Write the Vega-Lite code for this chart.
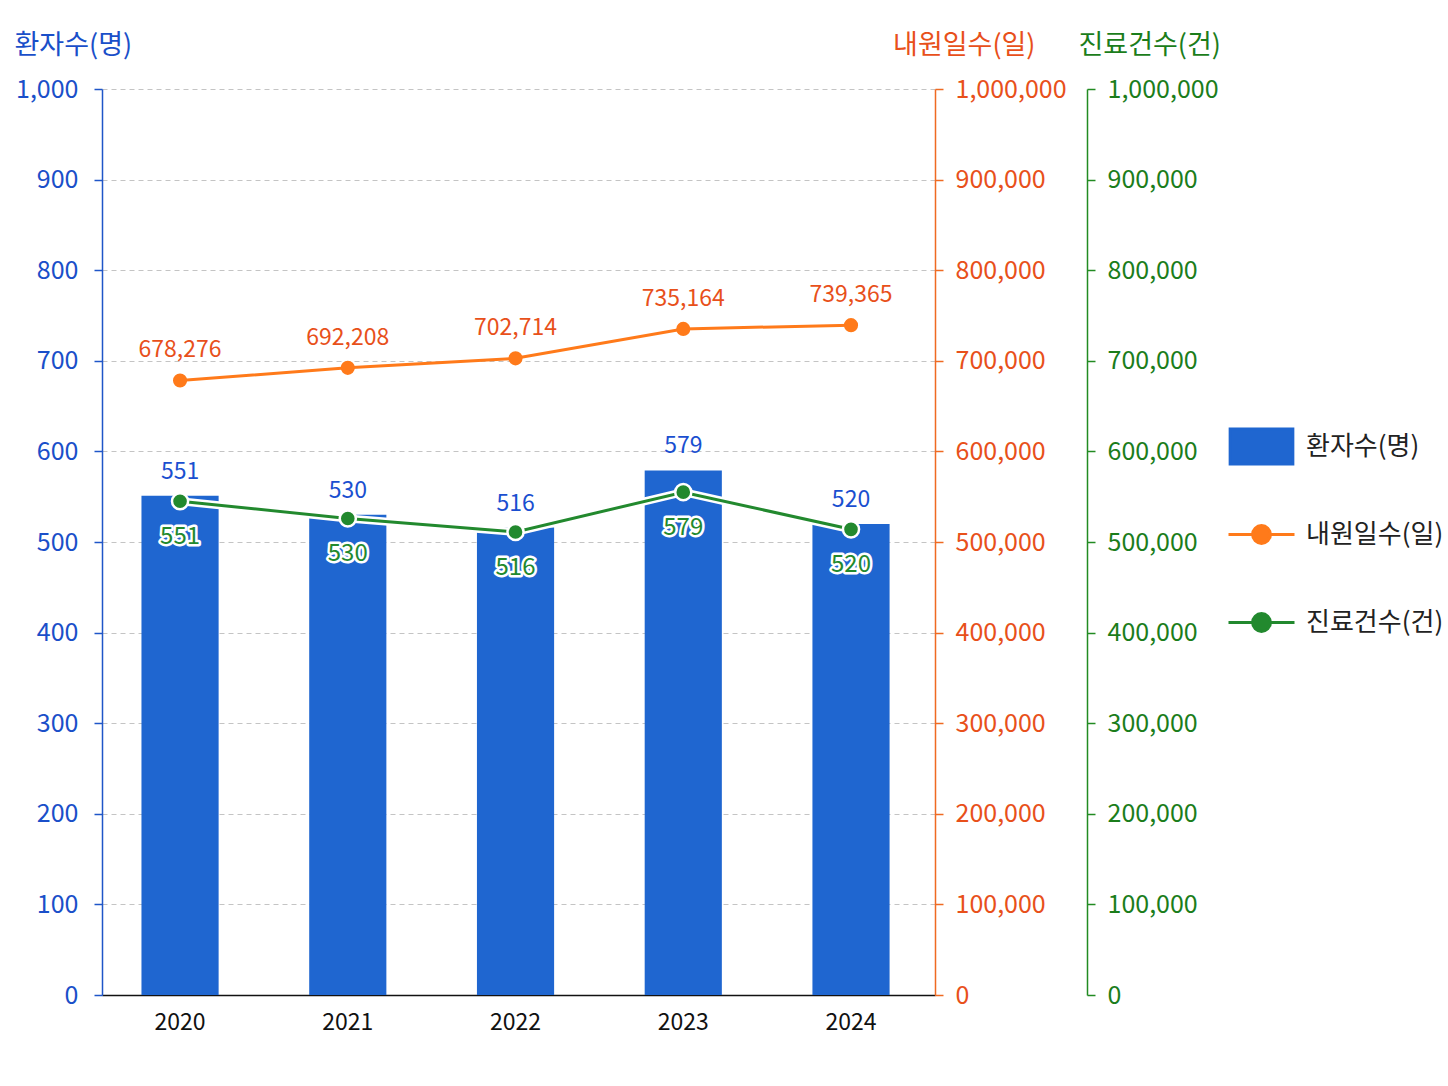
{
  "$schema": "https://vega.github.io/schema/vega-lite/v6.json",
  "width": 833,
  "height": 906,
  "autosize": {"type": "none"},
  "padding": {"left": 102, "top": 89, "right": 513, "bottom": 91},
  "background": "white",
  "config": {
    "font": "Noto Sans CJK KR",
    "view": {"stroke": null},
    "axis": {"labelFont": "Noto Sans CJK KR", "titleFont": "Noto Sans CJK KR", "titleFontWeight": "normal"},
    "text": {"font": "Noto Sans CJK KR"}
  },
  "data": {
    "values": [
      {"year": "2020", "patients": 551, "visits": 678276, "claims": 545000},
      {"year": "2021", "patients": 530, "visits": 692208, "claims": 526000},
      {"year": "2022", "patients": 516, "visits": 702714, "claims": 511000},
      {"year": "2023", "patients": 579, "visits": 735164, "claims": 555000},
      {"year": "2024", "patients": 520, "visits": 739365, "claims": 514000}
    ]
  },
  "encoding": {
    "x": {
      "field": "year",
      "type": "ordinal",
      "scale": {"paddingInner": 0.54, "paddingOuter": 0.253, "align": 0.465},
      "axis": {
        "title": null,
        "labelAngle": 0,
        "labelColor": "#111",
        "labelFontSize": 23,
        "labelPadding": 16,
        "ticks": false,
        "domainColor": "#111",
        "domainWidth": 1.5,
        "grid": false
      }
    }
  },
  "layer": [
    {
      "layer": [
        {
          "mark": {"type": "bar", "color": "#1f66d0"},
          "encoding": {
            "y": {
              "field": "patients",
              "type": "quantitative",
              "scale": {"domain": [0, 1000]},
              "axis": {
                "orient": "left",
                "values": [0, 100, 200, 300, 400, 500, 600, 700, 800, 900, 1000],
                "format": ",.0f",
                "labelColor": "#1a4fc9",
                "labelFontSize": 25,
                "labelPadding": 16,
                "domainColor": "#1f56c8",
                "domainWidth": 1.5,
                "tickColor": "#1f56c8",
                "tickSize": 8,
                "tickWidth": 1.5,
                "grid": true,
                "gridColor": "#c4c4c4",
                "gridDash": [5, 4],
                "gridWidth": 1,
                "title": "환자수(명)",
                "titleColor": "#1a4fc9",
                "titleFontSize": 27,
                "titleAngle": 0,
                "titleAlign": "left",
                "titleBaseline": "middle",
                "titleX": -88,
                "titleY": -44
              }
            }
          }
        },
        {
          "mark": {"type": "text", "color": "#1a4fd0", "baseline": "bottom", "dy": -12, "fontSize": 23},
          "encoding": {
            "y": {"field": "patients", "type": "quantitative"},
            "text": {"field": "patients", "type": "quantitative"}
          }
        }
      ]
    },
    {
      "layer": [
        {
          "mark": {"type": "line", "color": "#ff7a1a", "strokeWidth": 3},
          "encoding": {
            "y": {
              "field": "visits",
              "type": "quantitative",
              "scale": {"domain": [0, 1000000]},
              "axis": {
                "orient": "right",
                "values": [0, 100000, 200000, 300000, 400000, 500000, 600000, 700000, 800000, 900000, 1000000],
                "format": ",.0f",
                "labelColor": "#e8501a",
                "labelFontSize": 25,
                "labelPadding": 12,
                "domainColor": "#ef6a22",
                "domainWidth": 1.5,
                "tickColor": "#ef6a22",
                "tickSize": 8,
                "tickWidth": 1.5,
                "grid": false,
                "title": "내원일수(일)",
                "titleColor": "#e8501a",
                "titleFontSize": 27,
                "titleAngle": 0,
                "titleAlign": "right",
                "titleBaseline": "middle",
                "titleX": 100,
                "titleY": -44
              }
            }
          }
        },
        {
          "mark": {"type": "point", "filled": true, "opacity": 1, "color": "#ff7a1a", "size": 200},
          "encoding": {"y": {"field": "visits", "type": "quantitative"}}
        },
        {
          "mark": {"type": "text", "color": "#e8501a", "baseline": "bottom", "dy": -18, "fontSize": 23},
          "encoding": {
            "y": {"field": "visits", "type": "quantitative"},
            "text": {"field": "visits", "type": "quantitative", "format": ","}
          }
        }
      ]
    },
    {
      "layer": [
        {
          "mark": {"type": "line", "color": "white", "strokeWidth": 8},
          "encoding": {
            "y": {
              "field": "claims",
              "type": "quantitative",
              "scale": {"domain": [0, 1000000]},
              "axis": {
                "orient": "right",
                "offset": 152,
                "values": [0, 100000, 200000, 300000, 400000, 500000, 600000, 700000, 800000, 900000, 1000000],
                "format": ",.0f",
                "labelColor": "#1b7d1b",
                "labelFontSize": 25,
                "labelPadding": 12,
                "domainColor": "#228b22",
                "domainWidth": 1.5,
                "tickColor": "#228b22",
                "tickSize": 8,
                "tickWidth": 1.5,
                "grid": false,
                "title": "진료건수(건)",
                "titleColor": "#1b7d1b",
                "titleFontSize": 27,
                "titleAngle": 0,
                "titleAlign": "left",
                "titleBaseline": "middle",
                "titleX": -9,
                "titleY": -44
              }
            }
          }
        },
        {
          "mark": {"type": "line", "color": "#22892e", "strokeWidth": 3},
          "encoding": {"y": {"field": "claims", "type": "quantitative"}}
        },
        {
          "mark": {"type": "point", "filled": true, "opacity": 1, "fill": "#22892e", "stroke": "white", "strokeWidth": 2.5, "size": 260},
          "encoding": {"y": {"field": "claims", "type": "quantitative"}}
        },
        {
          "mark": {"type": "text", "color": "#22892e", "stroke": "white", "strokeWidth": 5, "strokeJoin": "round", "baseline": "top", "dy": 24, "fontSize": 24},
          "encoding": {
            "y": {"field": "claims", "type": "quantitative"},
            "text": {"field": "patients", "type": "quantitative"}
          }
        },
        {
          "mark": {"type": "text", "color": "#22892e", "baseline": "top", "dy": 24, "fontSize": 24},
          "encoding": {
            "y": {"field": "claims", "type": "quantitative"},
            "text": {"field": "patients", "type": "quantitative"}
          }
        }
      ]
    },
    {
      "data": {"values": []},
      "mark": {"type": "point", "filled": true, "opacity": 1, "strokeWidth": 3},
      "encoding": {
        "color": {
          "field": "series",
          "type": "nominal",
          "scale": {
            "domain": ["환자수(명)", "내원일수(일)", "진료건수(건)"],
            "range": ["#1f66d0", "#ff7a1a", "#22892e"]
          },
          "legend": {
            "orient": "none",
            "legendX": 1125,
            "legendY": 323,
            "title": null,
            "padding": 0,
            "columns": 1,
            "gridAlign": "all",
            "symbolSize": 4356,
            "symbolStrokeWidth": 3,
            "labelFontSize": 26,
            "labelColor": "#222",
            "labelFont": "Noto Sans CJK KR",
            "labelOffset": 10,
            "rowPadding": 30,
            "labelLimit": 300
          }
        },
        "stroke": {
          "field": "series",
          "type": "nominal",
          "scale": {
            "domain": ["환자수(명)", "내원일수(일)", "진료건수(건)"],
            "range": ["#1f66d0", "#ff7a1a", "#22892e"]
          }
        },
        "shape": {
          "field": "series",
          "type": "nominal",
          "scale": {
            "domain": ["환자수(명)", "내원일수(일)", "진료건수(건)"],
            "range": [
              "M-0.95,-0.53H0.95V0.53H-0.95Z",
              "M-1,0H1M0.27,0A0.27,0.27,0,1,1,-0.27,0A0.27,0.27,0,1,1,0.27,0Z",
              "M-1,0H1M0.27,0A0.27,0.27,0,1,1,-0.27,0A0.27,0.27,0,1,1,0.27,0Z"
            ]
          }
        }
      }
    }
  ],
  "resolve": {"scale": {"y": "independent"}}
}
